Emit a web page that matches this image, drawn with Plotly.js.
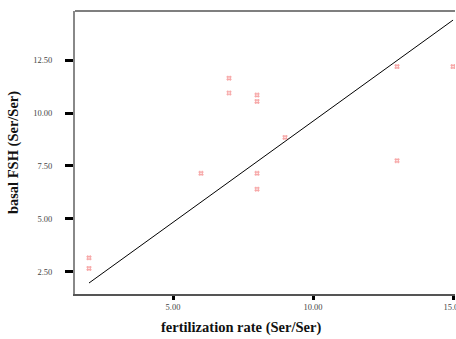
<!DOCTYPE html>
<html><head><meta charset="utf-8">
<script src="https://cdn.plot.ly/plotly-3.0.1.min.js"></script>
<style>body{margin:0;padding:0;background:#fff}#chart{width:456px;height:339px}</style>
</head><body><div id="chart"></div>
<script>
const fertilization = [2, 2, 6, 7, 7, 8, 8, 8, 8, 9, 13, 13, 15];
const basalFSH = [3.15, 2.65, 7.15, 11.65, 10.95, 10.85, 10.55, 7.15, 6.4, 8.85, 12.2, 7.75, 12.2];
const fitX = [2, 15];
const fitY = [1.96, 14.4];
const xTicks = [5, 10, 15];
const xTickText = ['5.00', '10.00', '15.00'];
const yTicks = [2.5, 5, 7.5, 10, 12.5];
const yTickText = ['2.50', '5.00', '7.50', '10.00', '12.50'];
const xTitle = 'fertilization rate (Ser/Ser)';
const yTitle = 'basal FSH (Ser/Ser)';

const data = [
  {x: fitX, y: fitY, type: 'scatter', mode: 'lines', line: {color: '#000', width: 1}, hoverinfo: 'skip'},
  {x: fertilization, y: basalFSH, type: 'scatter', mode: 'markers',
   marker: {symbol: 'hash-open', size: 5, color: '#f7a8a8', line: {color: '#f7a8a8', width: 1.2}}}
];
const layout = {
  width: 456, height: 339,
  margin: {l: 75, r: 1, t: 11, b: 45},
  paper_bgcolor: '#fff', plot_bgcolor: '#fff',
  showlegend: false,
  font: {family: 'Liberation Serif, serif', color: '#333'},
  xaxis: {
    range: [1.5, 15.07], showgrid: false, zeroline: false,
    showline: true, linecolor: '#555', linewidth: 1.5,
    tickmode: 'array', tickvals: xTicks, ticktext: xTickText,
    ticks: 'outside', ticklen: 4, tickwidth: 3, tickcolor: '#000',
    ticklabeloverflow: 'allow',
    tickfont: {size: 8.5, color: '#444', family: 'Liberation Serif, serif'}
  },
  yaxis: {
    range: [1.44, 14.83], showgrid: false, zeroline: false,
    showline: true, linecolor: '#888', linewidth: 2,
    tickmode: 'array', tickvals: yTicks, ticktext: yTickText,
    ticks: 'outside', ticklen: 8, tickwidth: 3, tickcolor: '#000',
    ticklabelstandoff: 11,
    tickfont: {size: 8.5, color: '#444', family: 'Liberation Serif, serif'},
    title: {text: yTitle, font: {size: 14.5, color: '#111', family: 'Liberation Serif, serif', weight: 'bold'}, standoff: 11}
  },
  annotations: [
    {text: xTitle, xref: 'paper', yref: 'paper', x: 0.437, y: -0.12, xanchor: 'center', yanchor: 'middle',
     showarrow: false, font: {size: 14.5, color: '#111', family: 'Liberation Serif, serif', weight: 'bold'}}
  ],
  shapes: [
    {type: 'line', xref: 'paper', yref: 'paper', x0: 0, x1: 1, y0: 1, y1: 1, line: {color: '#555', width: 1.5}}
  ]
};
Plotly.newPlot('chart', data, layout, {displayModeBar: false, staticPlot: true});
</script></body></html>
